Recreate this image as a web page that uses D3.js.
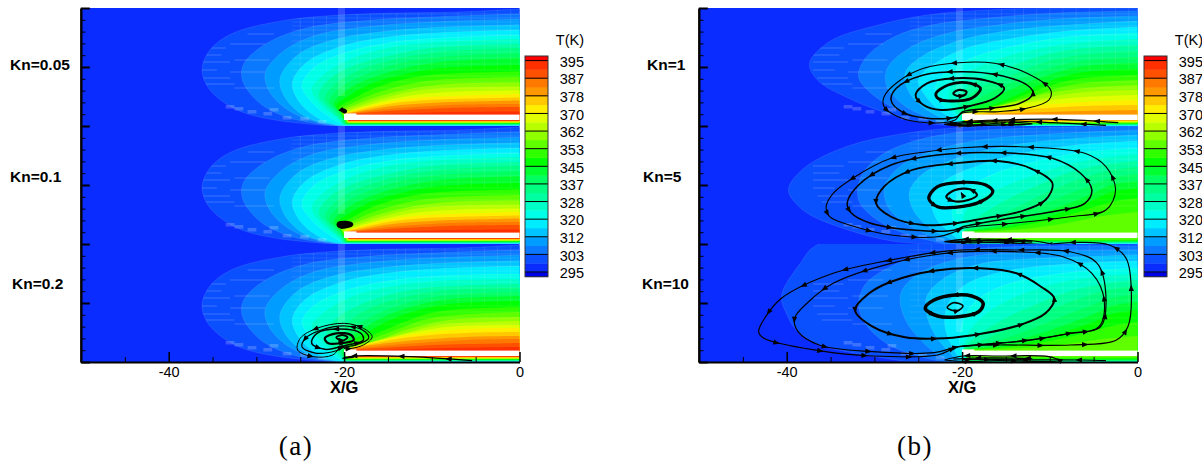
<!DOCTYPE html>
<html><head><meta charset="utf-8">
<style>html,body{margin:0;background:#fff}svg{display:block}text{font-family:"Liberation Sans",Arial,sans-serif}</style>
<script src="https://cdn.jsdelivr.net/npm/d3@7/dist/d3.min.js"></script></head><body>
<svg id="c" width="1202" height="464"></svg>
<script>
// Colour bar, low to high
const legendColors=["#0000e8","#0a2cff","#0a50ff","#0a78ff","#009cff","#00c4ff","#00ecff","#00ffe8","#00ffc8","#00ffa0","#00ff80","#00ff60","#00ff30","#00ff00","#30ff00","#60ff00","#90ff00","#b8ff00","#e0ff00","#ffee00","#ffc800","#ff9800","#ff7800","#ff5000","#ff3000","#ff0000"];
const legendLabels=[295,303,312,320,328,337,345,353,362,370,378,387,395];
const xMajor=[-40,-20,0];
const xMinor=[-45,-35,-30,-25,-15,-10,-5];
// Temperature contours: [X/G, depth in the strip 0..118], outer to inner
const outerA=[
[[0,1],[-6.9,4],[-15.7,5.3],[-22.2,8],[-27,12.7],[-32.7,25.3],[-35.3,42],[-36.2,62],[-35.3,82],[-32.2,102],[-27.9,112],[-21.3,118]],
[[0,6],[-9.1,8.7],[-17.8,12.7],[-24.4,20.3],[-28.8,35.3],[-31.4,55.3],[-31.6,72],[-29.6,95.3],[-26.1,110.3],[-20.9,118]],
[[0,11.3],[-9.1,13.7],[-16.5,18],[-23.1,27],[-27,43.7],[-29,65.3],[-28.5,83.7],[-26.1,103.7],[-22.2,116],[-20,118]],
[[0,16.7],[-9.1,19.3],[-15.7,23.7],[-21.3,32],[-25.3,47],[-27.3,70.3],[-26.8,88.7],[-24.4,108.7],[-20.9,117.3]],
[[0,22],[-9.1,24.7],[-15.2,29.3],[-20.5,38.7],[-24.4,55.3],[-25.9,75.3],[-25,95.3],[-22.6,112],[-20.5,117.3]]];
const innerA=[
[[0,27],[-9,30],[-15,35],[-20,45],[-23.5,60],[-24.8,78],[-23.5,96],[-21.5,110],[-20.3,116]],
[[0,31],[-9,34],[-15,40],[-19.5,52],[-22.5,68],[-23.7,82],[-22.5,98],[-20.8,110],[-20,115]],
[[0,36],[-9,39],[-14,46],[-19,58],[-21.8,72],[-22.9,87],[-21.8,100],[-20.5,111]],
[[0,40],[-9,44],[-14,51],[-18.5,63],[-21,76],[-22.2,90],[-21.2,102],[-20.3,110]],
[[0,45],[-9,49],[-14,56],[-18,68],[-20.5,80],[-21.7,93],[-20.8,103],[-20.2,110]],
[[0,50],[-9,54],[-13.5,61],[-17.5,72],[-20,84],[-21.2,96],[-20.5,104],[-20.1,110]],
[[0,57],[-9,60],[-13,66],[-17,76],[-19.5,88],[-20.9,98],[-20.3,105],[-20.1,109]],
[[0,63.5],[-9,66],[-13,71],[-16.5,80],[-19,91],[-20.6,100],[-20.2,106]],
[[0,69],[-8,71],[-12,75],[-16,84],[-18.8,94],[-20.4,102],[-20.1,106]],
[[0,74.5],[-8,76],[-12,80],[-15.5,87],[-18.5,96],[-20.2,103],[-20,107]],
[[0,78.5],[-8,80],[-12,83],[-15,89],[-18,97],[-20,104],[-20,107]],
[[0,82.5],[-8,84],[-12,87],[-15,92],[-18,99],[-19.9,104.5]],
[[0,86],[-8,88],[-12,90],[-15,94],[-18,100],[-19.9,105]],
[[0,89.5],[-8,91],[-12,93],[-15,96],[-18,101.5],[-19.9,105.5]],
[[0,92.5],[-8,94],[-12,96],[-15,98.5],[-18,103],[-19.9,105.8]],
[[0,96],[-8,97],[-12,99],[-15,101],[-18,104],[-19.9,106]],
[[0,99],[-8,100],[-12,101.5],[-15,103],[-18,105],[-19.9,106.2]],
[[0,103.5],[-8,104],[-12,105],[-16,106],[-19.9,106.5]]];
const innerA3=[
[[0,30],[-9,32],[-15,37],[-20,47],[-23.5,62],[-24.8,78],[-23.5,96],[-21.5,110],[-20.3,116]],
[[0,35],[-9,37],[-15,43],[-19.5,54],[-22.5,70],[-23.7,82],[-22.5,98],[-20.8,110],[-20,115]],
[[0,40],[-8,42],[-13,47],[-18,60],[-21,75],[-22,88],[-21.5,100],[-20.5,111]],
[[0,44],[-8,46],[-12.5,52],[-17,64],[-19.5,78],[-20.8,92],[-20.6,102],[-20.3,110]],
[[0,48],[-8,51],[-12,57],[-16,69],[-18.5,82],[-20,95],[-20.3,103],[-20.2,110]],
[[0,52],[-8,55],[-12,62],[-15.5,73],[-18,86],[-19.7,97],[-20.1,110]],
[[0,57],[-8,60],[-11.5,66],[-15,77],[-17.5,89],[-19.5,99],[-20,108]],
[[0,63],[-8,66],[-11,71],[-14,81],[-17,92],[-19.3,101],[-20,107]],
[[0,68],[-7,71],[-10.5,75],[-13.5,84],[-16.5,94],[-19,102],[-20,107]],
[[0,73],[-7,75],[-10,79],[-13,86],[-16,96],[-19,103],[-20,107]],
[[0,77],[-7,79],[-10,82],[-13,89],[-16.5,97],[-19.3,104]],
[[0,81],[-7,82],[-10,85],[-13.5,91],[-17,99],[-19.6,104.5]],
[[0,84],[-6,85],[-10,88],[-14,93],[-17.5,100],[-19.9,105]],
[[0,88],[-6,89],[-10,91],[-14,95],[-17.5,101],[-19.9,105.5]],
[[0,92],[-6,93],[-10,95],[-14,98],[-18,102.5],[-19.9,105.8]],
[[0,95],[-6,96],[-10,98],[-14,100.5],[-18,104],[-19.9,106]],
[[0,99],[-6,100],[-10,101],[-14,103],[-18,105],[-19.9,106.2]],
[[0,103],[-8,104],[-12,105],[-16,106],[-19.9,106.5]]];
const levelsB1=[
[[0,0],[-10,0.5],[-16,1.5],[-24,7],[-30,18],[-35,33],[-37.4,55],[-36.5,72],[-33,90],[-29,104],[-25,114],[-21,118]],
[[0,3],[-9,5],[-17,10],[-24,18],[-28,30],[-31,50],[-31.8,69],[-30,88],[-27,103],[-23,114],[-20.5,118]],
[[0,8],[-9,11],[-16,17],[-22,26],[-26,40],[-28.5,60],[-28.6,78],[-26.5,98],[-23,112],[-20.3,118]],
[[0,13],[-8,17],[-15,23],[-20.5,33],[-24.5,48],[-26.5,65],[-26,85],[-24,102],[-21.5,113],[-20,118]],
[[0,19],[-8,23],[-14,30],[-19.5,40],[-23,55],[-25,72],[-24,90],[-22.5,103],[-20.5,114]],
[[0,25],[-8,29],[-13,36],[-18,47],[-21.5,62],[-23,78],[-22.5,94],[-21,106],[-20.2,113]],
[[0,31],[-7,35],[-12,42],[-16.5,53],[-20,68],[-21.5,83],[-21.3,97],[-20.5,107]],
[[0,37],[-7,41],[-11,48],[-15,60],[-18.5,73],[-20.3,88],[-20.5,100],[-20.2,107]],
[[0,43],[-6.5,47],[-10.5,54],[-14,66],[-17.5,78],[-19.8,92],[-20.2,102]],
[[0,49],[-6.5,53],[-10,60],[-13.5,71],[-16.5,83],[-19,95],[-20,104]],
[[0,55],[-6,58],[-9.5,65],[-13,76],[-16,88],[-18.5,98],[-20,105]],
[[0,61],[-6,64],[-9,70],[-12,80],[-15,92],[-18,101],[-20,105]],
[[0,67],[-6,70],[-9,75],[-12,84],[-15,94],[-18,102],[-20,105.5]],
[[0,72],[-6,75],[-9,80],[-12,88],[-15,96],[-18,103],[-20,105.5]],
[[0,77],[-6,80],[-10,85],[-13,91],[-16,98],[-20,106]],
[[0,82],[-6,84],[-10,89],[-14,95],[-17,100],[-20,106]],
[[0,87],[-6,89],[-11,93],[-15,98],[-18,102],[-20,106]],
[[0,92],[-6,94],[-12,98],[-16,103],[-20,106]],
[[0,97],[-6,98],[-12,101],[-16,104],[-19,106]],
[[0,102],[-6,103],[-12,104.5],[-17,106]]];
const levelsB2=[
[[0,-1],[-15,0],[-21,2],[-27,8],[-33,20],[-38,42],[-39.8,64],[-38,85],[-33,104],[-28,115],[-24,118]],
[[0,0],[-12,2],[-20,6],[-25,14],[-29,28],[-31.5,50],[-31.8,74],[-30,92],[-27,106],[-22,118]],
[[0,4],[-10,8],[-18,14],[-23,24],[-27,40],[-28.8,60],[-28.5,80],[-26,100],[-22.5,113],[-20.5,118]],
[[0,9],[-8,13],[-15,20],[-20.5,32],[-24.5,48],[-26,66],[-25.5,85],[-23.5,103],[-20.5,116]],
[[0,15],[-7,19],[-13,27],[-18,39],[-22,55],[-23.5,72],[-23,92],[-21.5,106],[-20,116]],
[[0,22],[-6,26],[-11,34],[-15.5,45],[-19,60],[-21,78],[-21,95],[-20.3,108]],
[[0,28],[-5,33],[-9,41],[-13,53],[-17,68],[-19.5,84],[-20,98],[-20,108]],
[[0,35],[-4,39],[-8,47],[-11,58],[-15,74],[-18,90],[-19.8,103]],
[[0,41],[-3.5,45],[-6.5,53],[-10,65],[-13.5,80],[-17,94],[-19.8,104]],
[[0,48],[-3,52],[-5.5,60],[-9,72],[-13,86],[-17,98],[-19.8,105]],
[[0,55],[-3,59],[-5,67],[-8,78],[-12,90],[-16,100],[-19.8,105]],
[[0,62],[-3,66],[-5,74],[-8,84],[-11,93],[-15,101],[-19.8,105.5]],
[[0,72],[-3,76],[-6,84],[-10,94],[-15,102],[-19.8,105.5]],
[[0,86],[-4,90],[-8,97],[-13,103],[-19,106]]];
const levelsB3=[
[[0,0],[-36.3,0],[-38.5,20],[-40.6,52],[-40,70],[-39,85],[-36.5,100],[-33,108],[-26,118]],
[[0,2],[-15,3],[-24,10],[-28,22],[-31,40],[-31.8,60],[-31,80],[-28.5,100],[-25,112],[-22,118]],
[[0,6],[-12,8],[-20,14],[-25,30],[-27,50],[-26.5,75],[-24.5,98],[-22.5,112],[-20.8,118]],
[[0,11],[-10,14],[-18,20],[-22,34],[-24,52],[-24,72],[-23,92],[-21.5,108],[-20.3,118]],
[[0,17],[-8,20],[-15,27],[-19.5,40],[-21.5,58],[-22,78],[-21.5,96],[-20.5,112]],
[[0,24],[-6,27],[-12,34],[-16.5,46],[-19,62],[-20,80],[-20.3,96],[-20.1,110]],
[[0,30],[-5,33],[-10,41],[-14,53],[-17,68],[-19,85],[-19.8,100]],
[[0,36],[-4,40],[-8,48],[-11.5,60],[-15,74],[-18,90],[-19.8,103]],
[[0,42],[-3.5,46],[-6.5,54],[-10,66],[-13.5,80],[-17,94],[-19.8,104]],
[[0,50],[-3,54],[-5.5,62],[-9,74],[-13,88],[-17,99],[-19.8,105]],
[[0,58],[-3,62],[-5,70],[-8,80],[-12,92],[-16,101],[-19.8,105]],
[[0,66],[-3,70],[-5,78],[-8,87],[-11,95],[-15,102],[-19.8,105.5]],
[[0,78],[-3,82],[-6,89],[-10,97],[-15,103],[-19.8,105.5]],
[[0,92],[-4,95],[-8,100],[-13,104],[-19,106]]];
// Depth at which each level leaves the underside of the plate
const underA=[118,118,118,118,117.6,117.2,117,116.7,116.4,116.1,115.8,115.5,115.2,115,114.8,114.5,114.2,113.8,113.5,113.2,113,112.8,112.5];
const underB1=[118,118,118,118,118,117.6,117.2,116.9,116.6,116.3,116,115.7,115.4,115,114.6,114.2,113.8,113.4,113,112.6];
const underB2=[118,118,118,118,118,117.6,117.2,116.8,116.4,116,115.5,115,114.4,113.6];
const underB3=[118,118,118,118,118,118,117.8,117.4,117,116.5,116,115.3,114.5,113.5];
// Streamlines: [X/G, depth]
const streamsA1=[[[-20.1,101.5],[-19.8,103],[-19.9,104.3],[-20.2,103]]];
const streamsA2=[[[-20.6,98],[-19.8,97],[-19.2,98.5],[-19.9,100.2],[-20.5,100]]];
const streamsA3=[
[[-20.2,101],[-21.3,111],[-23.5,112.7],[-25.3,106],[-25,94.3],[-23.1,84.3],[-20,79.3],[-17.8,84.3],[-16.8,92.7],[-17.8,101],[-20,104.3]],
[[-20.7,106],[-23.1,109.3],[-24.8,102.7],[-24.4,94.3],[-22.6,86],[-19.8,82],[-17.6,87.7],[-17.2,94.3],[-18.7,101],[-20.5,104.3]],
[[-23.7,99.3],[-23.1,89.3],[-20.5,85],[-18.1,89.3],[-17.8,96],[-19.6,101],[-22.2,105.3]],
[[-22.2,94.3],[-20.9,89.3],[-19.2,91],[-18.9,96],[-20.5,99.3],[-21.8,99.3]],
[[-20.9,93.3],[-20.2,91],[-19.6,93.3],[-20.2,96.7]]];
const openA3=[[[-18.9,113.3],[-20.2,114.3],[-18.9,112],[-12.4,112.7],[-5.4,116.7]]];
const streamsB1=[
[[-20.1,105.3],[-20.8,112],[-24,114.7],[-27.3,108.7],[-28.9,98.7],[-28.9,88.7],[-27.3,73.7],[-24.4,60.3],[-20.4,54.7],[-16.3,55.3],[-12.6,65.3],[-9.9,82],[-10.1,92],[-12.6,100.3],[-15.9,103.7]],
[[-20.6,108.7],[-24,110.3],[-26.9,103.7],[-28.1,92],[-27.5,80.3],[-24.4,67],[-19.9,63.7],[-15.9,67],[-12.6,77],[-11.9,85.3],[-13.4,95.3],[-16.7,100.3],[-19.9,103.7]],
[[-25.3,87],[-24,75.3],[-20.8,70.3],[-17.5,72],[-15.2,80.3],[-16.3,90.3],[-19.1,98],[-22.4,102],[-24.4,97]],
[[-23,86],[-21.6,77],[-19.5,74.7],[-17.9,80.3],[-18.9,90.3],[-21.2,93],[-22.6,91.3]],
[[-21,85.3],[-20.4,82],[-19.5,83.7],[-19.7,87],[-20.6,87.7]]];
const openB1=[
[[-12.8,116.7],[-15.9,117],[-19.9,118],[-22,116],[-19.9,113.7],[-15.9,112],[-8.9,111.3],[-2.2,114.7]],
[[-15,114.5],[-18,116.5],[-22,116.5],[-19.9,115],[-15.9,112.7],[-9.7,114.7],[-3.6,117.3]],
[[-21.5,116],[-19,114.5],[-15,114],[-12,116],[-16,117],[-20,117.3],[-21.5,116]]];
const streamsB2=[
[[-20.8,105.7],[-22.8,110.7],[-28.1,109],[-32.2,100.7],[-35.1,90.7],[-35.5,80.7],[-34.7,67.3],[-32.2,50.7],[-28.1,32.3],[-24,25.7],[-19.9,21.7],[-13.4,20.7],[-6,27.3],[-3.6,40.7],[-2.5,64],[-3.6,84],[-7.7,90.7],[-14.2,97.3],[-19.9,102.3]],
[[-20.8,104],[-25.7,104],[-30.6,96.7],[-32.6,87.3],[-33.1,77.3],[-31.8,59],[-28.1,39],[-22.8,29],[-15.9,26.7],[-9.7,32.3],[-6.5,47.3],[-5.2,64],[-6,77.3],[-9.7,85.7],[-14.6,92.3],[-19.9,100.7]],
[[-24.4,99],[-28.1,90.7],[-29.8,77.3],[-28.9,60.7],[-25.7,44],[-20.8,37.3],[-15.9,35],[-12.2,42.3],[-9.7,57.3],[-10.5,74],[-13.4,85.7],[-17.5,92.3],[-20.8,97.3]],
[[-23.8,72.3],[-22.8,60.7],[-19.9,56.3],[-17.3,59],[-16.5,65.7],[-17.9,75.7],[-20.8,81.3],[-22.8,80.7]],
[[-21.8,70.7],[-20.8,64],[-19.1,63.3],[-18.3,69],[-19.3,74],[-21,75]]];
const openB2=[
[[-22,115.7],[-19.9,113.3],[-15.9,113.3],[-11.8,115],[-9.9,118],[-15.9,116.7],[-19.9,116.7],[-22,115.7],[-19.9,115],[-15.9,114.8],[-12,116.2]],
[[-20.8,116],[-17,114],[-13,115.5],[-17,116],[-20.5,115.5]],
[[-20.1,66.7],[-19.8,71.3]]];
const streamsB3=[
[[-20.4,102.7],[-23.2,108.7],[-30.2,107.7],[-36.3,101],[-38.7,87.7],[-39.1,74.3],[-37.5,57.7],[-34.7,39.3],[-28.1,19.3],[-21.2,8.7],[-14.2,7.7],[-8.5,12.7],[-5.2,29.3],[-3.8,56],[-4.4,82.7],[-8.1,90],[-12.6,96.7]],
[[-32.2,66],[-30.6,49.3],[-28.1,37.7],[-23.2,26.7],[-17.9,24.3],[-13.8,29.3],[-11,42.7],[-9.5,54.3],[-10.5,69.3],[-13.4,81],[-17.5,89.3],[-22,94.3],[-26.5,93.3],[-30.2,82.7]],
[[-24.2,64.3],[-23.2,56],[-20.8,51],[-18.9,52],[-17.6,59.3],[-18.1,67.7],[-20.4,72.7],[-22.8,72]],
[[-21.7,63.7],[-21,58.7],[-19.9,62],[-20.6,67]]];
const openB3=[
[[-9.9,0],[-6.7,-1.7],[-3.2,1],[-1.3,14.3],[-0.7,49.3],[-1.1,82.7],[-2.4,96],[-7.7,101],[-15.9,101],[-20.4,102.7],[-22.8,111],[-30.2,112],[-36.3,106.7],[-42.6,94.3],[-43.2,87.7],[-42.4,72.7],[-40.6,54.3],[-34.7,29.3],[-28.5,16.7],[-21.2,6.7],[-13.8,6],[-7.7,7.7],[-4.6,19.3],[-3.6,52.7],[-4.2,82.7],[-7.7,89.3],[-11.8,95.3],[-15.9,99.3],[-20.4,102.7]],
[[-22,116],[-19.9,112],[-15.9,112],[-10.1,112.7],[-8.9,116.7],[-15.9,116.7],[-19.9,117.3],[-22,116]],
[[-21,115],[-17,113.8],[-12,114.5],[-16,115.4],[-20,115.5]],
[[-15.9,116],[-6.5,116],[-3.6,116.7]]];
// Mesh lines showing through the field
const gridX=[-25,-23.5,-22,-18.5,-17,-15.5,-14,-13,-11.5,-10,-8.5,-7,-5.5,-4,-2.5,-1];
const gridD=[6,10,14,18,22,27,33,38,44,50,56,62,68,74,80];
const noseStubs=[[-37,-33.5,40],[-37,-34,47],[-37,-33,54],[-37,-34.5,62],[-36.5,-33,70],[-36,-32.5,76],[-33,-29,36],[-32.5,-28.5,52],[-33,-29,64],[-32.5,-28,80],[-31,-28,26]];
const stairCells=[[-33.5,97],[-32.5,99],[-31,102],[-29.2,104],[-28.5,100],[-27,108],[-25,109],[-23,112]];
// Strip labels
const stripsA=[{n:"Kn=0.05",lv:outerA.concat(innerA),u:underA,s:streamsA1,o:[],w:[2.4]},
{n:"Kn=0.1",lv:outerA.concat(innerA),u:underA,s:streamsA2,o:[],w:[4.5]},
{n:"Kn=0.2",lv:outerA.concat(innerA3),u:underA,s:streamsA3,o:openA3,w:[1,1.2,1.5,2.2,1.8]}];
const stripsB=[{n:"Kn=1",lv:levelsB1,u:underB1,s:streamsB1,o:openB1,w:[1.1,1.5,1.9,2.8,2.2]},
{n:"Kn=5",lv:levelsB2,u:underB2,s:streamsB2,o:openB2,w:[1.1,1.5,1.8,3.2,2.2]},
{n:"Kn=10",lv:levelsB3,u:underB3,s:streamsB3,o:openB3,w:[1.2,2,3.6,1.6]}];

const svg=d3.select("#c");
const defs=svg.append("defs");
const stripH=118, topY=8;
let uid=0;
function panel(left,strips,labelXs,legendX,caption,capX){
  const x=d3.scaleLinear().domain([-50,0]).range([left,left+438.5]);
  const g=svg.append("g");
  g.append("rect").attr("x",x(-50)).attr("y",topY).attr("width",x(0)-x(-50)).attr("height",stripH*3).attr("fill",legendColors[1]);
  strips.forEach((s,k)=>{
    const y=d3.scaleLinear().domain([0,stripH]).range([topY+k*stripH,topY+(k+1)*stripH]);
    const id="clip"+(uid++);
    const cl=defs.append("clipPath").attr("id",id);
    cl.append("rect").attr("x",x(-50)).attr("y",y(0)).attr("width",x(0)-x(-50)).attr("height",stripH);
    const line=d3.line().x(d=>x(d[0])).y(d=>y(d[1])).curve(d3.curveCatmullRom.alpha(0.5));
    const levelPath=(c,i)=>{const u=s.u[i];return line(c)+"L"+x(c[c.length-1][0]+0.4)+","+y(u)+"L"+x(0.2)+","+y(u)+"L"+x(0.2)+","+y(c[0][1])+"Z";};
    const f=g.append("g").attr("clip-path","url(#"+id+")");
    f.selectAll("path.lv").data(s.lv).join("path").attr("class","lv")
      .attr("d",levelPath).attr("fill",(c,i)=>legendColors[i+2])
      .attr("stroke",(c,i)=>i<6?"#fff":"none").attr("stroke-opacity",0.1).attr("stroke-width",1);
    // mesh
    const id2="clip"+(uid++);
    defs.append("clipPath").attr("id",id2).append("path").attr("d",levelPath(s.lv[0],0));
    const m=f.append("g").attr("clip-path","url(#"+id2+")").attr("stroke","#fff").attr("stroke-opacity",0.1).attr("stroke-width",1);
    m.selectAll("line.v").data(gridX).join("line").attr("class","v").attr("x1",d=>x(d)).attr("x2",d=>x(d)).attr("y1",y(0)).attr("y2",y(62));
    m.selectAll("line.h").data(gridD).join("line").attr("class","h").attr("y1",d=>y(d)).attr("y2",d=>y(d)).attr("x1",x(-26)).attr("x2",x(0));
    m.selectAll("line.n").data(noseStubs).join("line").attr("class","n").attr("x1",d=>x(d[0])).attr("x2",d=>x(d[1])).attr("y1",d=>y(d[2])).attr("y2",d=>y(d[2])).attr("stroke-opacity",0.2);
    f.selectAll("rect.st").data(stairCells).join("rect").attr("class","st")
      .attr("x",d=>x(d[0])).attr("y",d=>y(d[1])).attr("width",x(1)-x(0)).attr("height",y(3.5)-y(0)).attr("fill","#fff").attr("fill-opacity",0.2);
    // pale band at the plate's leading edge
    f.append("rect").attr("x",x(-20.7)).attr("width",x(-19.9)-x(-20.7)).attr("y",y(0)).attr("height",y(88)-y(0)).attr("fill","#fff").attr("fill-opacity",0.16);
    // plate
    f.append("rect").attr("x",x(-20)).attr("width",x(0.2)-x(-20)).attr("y",y(106.6)).attr("height",y(112)-y(106.6)).attr("fill","#fff");
    f.append("rect").attr("x",x(-20)).attr("width",x(-18.6)-x(-20)).attr("y",y(105.4)).attr("height",y(112)-y(105.4)).attr("fill","#fff");
    // streamlines
    const closed=d3.line().x(d=>x(d[0])).y(d=>y(d[1])).curve(d3.curveCatmullRomClosed.alpha(0.5));
    const add=(c,i,gen,w)=>{
      const p=g.append("path").attr("d",gen(c)).attr("fill","none").attr("stroke","#000").attr("stroke-width",w);
      const n=p.node(), L=n.getTotalLength(), cnt=Math.max(1,Math.round(L/45));
      d3.range(cnt).forEach(j=>{
        const t=(j+0.5)/cnt*L, a=n.getPointAtLength(t), b=n.getPointAtLength(Math.max(0,t-1));
        const ang=Math.atan2(b.y-a.y,b.x-a.x)*180/Math.PI;
        g.append("path").attr("d","M3.5,0L-3,-2.6L-3,2.6Z").attr("fill","#000").attr("transform","translate("+a.x+","+a.y+") rotate("+ang+")");
      });
    };
    s.s.forEach((c,i)=>add(c,i,closed,s.w[i]||1));
    s.o.forEach((c,i)=>add(c,i,line,1.2));
    // strip label
    g.append("text").attr("x",labelXs[k]).attr("y",[66,178,285][k]).attr("dominant-baseline","middle")
      .attr("font-size",15.5).attr("font-weight","bold").attr("fill","#000").text(s.n);
  });
  // axes
  const xa=g.append("g").attr("transform","translate(0,362)");
  xa.call(d3.axisBottom(x).tickValues(xMajor).tickFormat(d3.format("d")).tickSizeInner(-10).tickSizeOuter(0).tickPadding(3));
  xa.selectAll("text").attr("font-size",14.5).attr("font-family",null).attr("dy",null).attr("y",5).attr("dominant-baseline","hanging").text(d=>d===0?"0":"-"+Math.abs(d));
  xa.selectAll("line").attr("stroke-width",1.5);
  xa.select(".domain").attr("stroke-width",2.2);
  g.append("g").attr("transform","translate(0,362)").call(d3.axisBottom(x).tickValues(xMinor).tickFormat("").tickSizeInner(-5).tickSizeOuter(0)).call(a=>a.select(".domain").remove());
  const yy=d3.scaleLinear().domain([0,30]).range([362,topY]);
  const ya=g.append("g").attr("transform","translate("+(x(-50)-0.2)+",0)");
  ya.call(d3.axisLeft(yy).tickValues(d3.range(0,31,5)).tickFormat("").tickSizeInner(-9).tickSizeOuter(0));
  ya.selectAll("line").attr("stroke-width",2);
  ya.select(".domain").attr("stroke-width",2.4);
  g.append("g").attr("transform","translate("+x(-50)+",0)").call(d3.axisLeft(yy).tickValues(d3.range(0,31).filter(d=>d%5)).tickFormat("").tickSizeInner(-4.5).tickSizeOuter(0)).call(a=>a.select(".domain").remove());
  g.append("text").attr("x",x(-20)).attr("y",389).attr("text-anchor","middle").attr("dominant-baseline","middle").attr("font-size",16.5).attr("font-weight","bold").text("X/G");
  g.append("text").attr("x",capX).attr("y",449).attr("text-anchor","middle").attr("dominant-baseline","middle").attr("font-size",27).attr("letter-spacing",1.5).style("font-family","'Liberation Serif',serif").text(caption);
  // colour bar
  const ls=d3.scaleLinear().domain([0,12]).range([272,60.6]);
  const L=g.append("g");
  const edge=i=>i===0?276.7:(i===legendColors.length?56:ls((i-1)/2));
  L.selectAll("rect").data(legendColors).join("rect").attr("x",legendX).attr("width",23)
    .attr("y",(d,i)=>edge(i+1)).attr("height",(d,i)=>edge(i)-edge(i+1)+0.4).attr("fill",d=>d);
  L.selectAll("line").data(legendLabels).join("line").attr("x1",legendX).attr("x2",legendX+23)
    .attr("y1",(d,i)=>ls(i)).attr("y2",(d,i)=>ls(i)).attr("stroke","#000").attr("stroke-width",1);
  L.append("rect").attr("x",legendX).attr("y",56).attr("width",23).attr("height",220.7).attr("fill","none").attr("stroke","#333").attr("stroke-width",1);
  L.selectAll("text.v").data(legendLabels).join("text").attr("class","v").attr("x",legendX+59).attr("y",(d,i)=>ls(i)+2.4)
    .attr("text-anchor","end").attr("dominant-baseline","middle").attr("font-size",14.5).text(d=>d);
  L.append("text").attr("x",legendX+59).attr("y",41).attr("text-anchor","end").attr("dominant-baseline","middle").attr("font-size",14.5).text("T(K)");
}
panel(81,stripsA,[10,10,12],525,"(a)",296);
panel(699,stripsB,[647,643,642],1144,"(b)",915);
</script></body></html>
